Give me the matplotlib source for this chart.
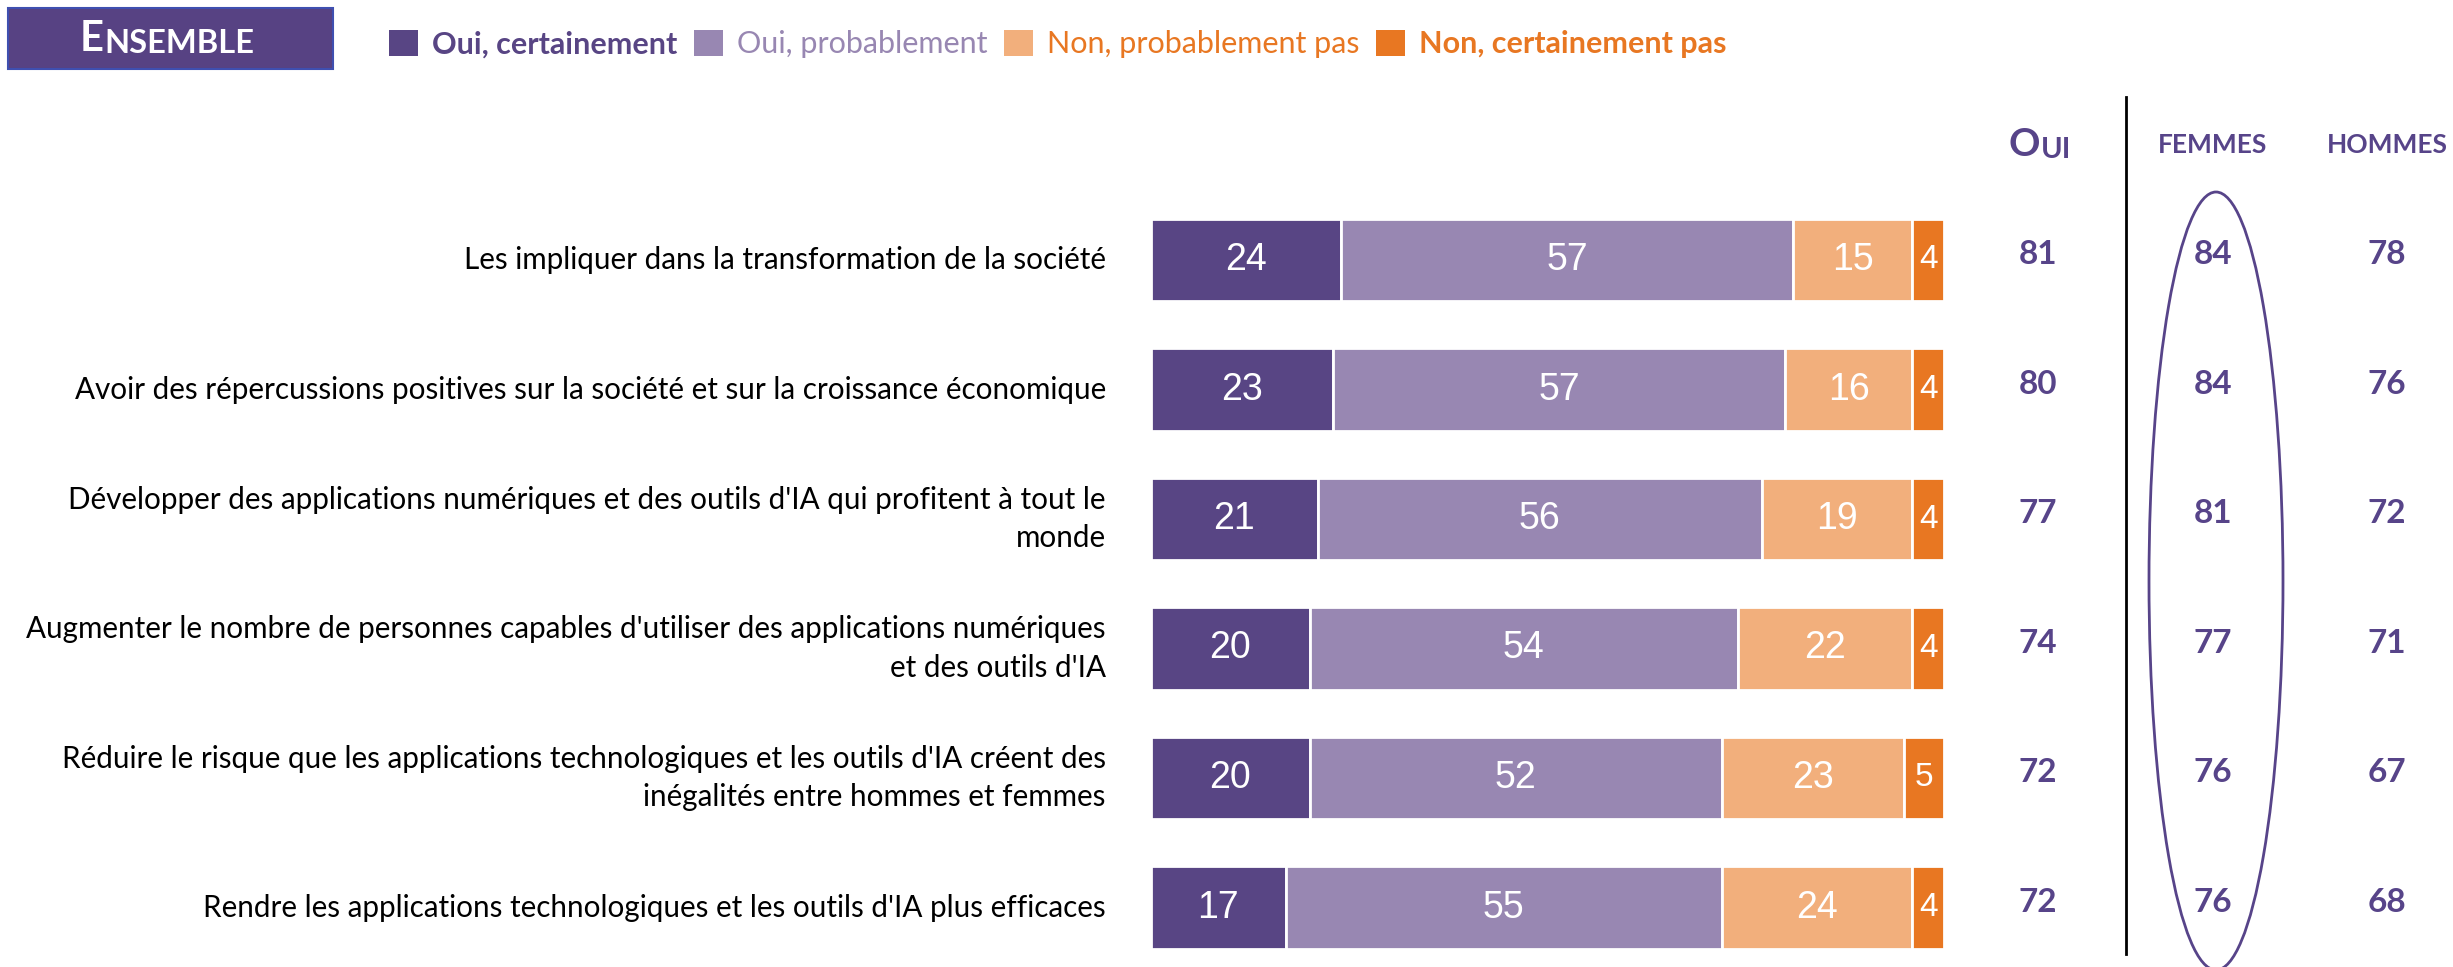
import matplotlib.pyplot as plt
from matplotlib.patches import Ellipse, Rectangle, Patch
from matplotlib.text import Annotation

# Data
categories = [
    "Les impliquer dans la transformation de la société",
    "Avoir des répercussions positives sur la société et sur la croissance économique",
    "Développer des applications numériques et des outils d'IA qui profitent à tout le\nmonde",
    "Augmenter le nombre de personnes capables d'utiliser des applications numériques\net des outils d'IA",
    "Réduire le risque que les applications technologiques et les outils d'IA créent des\ninégalités entre hommes et femmes",
    "Rendre les applications technologiques et les outils d'IA plus efficaces",
]
oui_certainement = [24, 23, 21, 20, 20, 17]
oui_probablement = [57, 57, 56, 54, 52, 55]
non_probablement = [15, 16, 19, 22, 23, 24]
non_certainement = [4, 4, 4, 4, 5, 4]
total_oui = [81, 80, 77, 74, 72, 72]
femmes = [84, 84, 81, 77, 76, 76]
hommes = [78, 76, 72, 71, 67, 68]
series_labels = ["Oui, certainement", "Oui, probablement", "Non, probablement pas", "Non, certainement pas"]

# Style
colors = ["#584584", "#9887B2", "#F2AF7C", "#E87722"]
legend_text_colors = ["#584584", "#9887B2", "#E87722", "#E87722"]
legend_weights = ["bold", "normal", "normal", "bold"]
value_color = "#574489"
font = "Lato"
num_font = ["Liberation Sans", "DejaVu Sans"]

W, H = 2453, 967
x0, unit = 1151, 7.93          # bar start (px) and px per percent
row0, pitch = 260, 129.5       # first row centre (px from top) and row pitch

fig = plt.figure(figsize=(W / 100, H / 100), dpi=100)
top_px = row0 - pitch / 2
ax = fig.add_axes([x0 / W, 0, 100 * unit / W, (H - top_px) / H])
ax.set_xlim(0, 100)
ax.set_ylim(-0.5 + (H - top_px) / pitch, -0.5)
ax.axis("off")

# Stacked bars
series = [oui_certainement, oui_probablement, non_probablement, non_certainement]
rows = range(len(categories))
lefts = [0] * len(categories)
for vals, col in zip(series, colors):
    ax.barh(rows, vals, left=lefts, height=0.64, color=col, edgecolor="white", linewidth=2)
    for i, v in enumerate(vals):
        ax.text(lefts[i] + v / 2, i, str(v), ha="center", va="center", color="white",
                fontsize=27 if v > 6 else 24, family=num_font)
    lefts = [l + v for l, v in zip(lefts, vals)]

# Category labels
for i, cat in enumerate(categories):
    ax.text(-5.7, i, cat, ha="right", va="center", fontsize=21.3, family=font,
            color="black", linespacing=1.45, multialignment="right")

# Right-hand columns
def col_x(px):
    return (px - x0) / unit

col_oui, col_f, col_h = col_x(2038), col_x(2213), col_x(2387)
for col, vals in [(col_oui, total_oui), (col_f, femmes), (col_h, hommes)]:
    for i in rows:
        ax.text(col, i - 0.04, str(vals[i]), ha="center", va="center", fontsize=24,
                fontweight="bold", color=value_color, family=font, clip_on=False)

head_y = (145 - row0) / pitch
t_o = ax.text(col_oui + 0.3, head_y, "O", ha="right", va="center", fontsize=28,
              fontweight="bold", color=value_color, family=font, clip_on=False)
ax.annotate("UI", xy=(1, 0), xycoords=t_o, ha="left", va="bottom", fontsize=21,
            fontweight="bold", color=value_color, family=font)
for col, name in [(col_f, "FEMMES"), (col_h, "HOMMES")]:
    ax.text(col, head_y, name, ha="center", va="center", fontsize=19,
            fontweight="bold", color=value_color, family=font, clip_on=False)

# Separator line and ellipse around the women column
ax.plot([col_x(2126)] * 2, [(97 - row0) / pitch, (954 - row0) / pitch], color="black",
        lw=2, clip_on=False)
ax.add_patch(Ellipse((col_x(2216), (581 - row0) / pitch), 134 / unit, 778 / pitch,
                     fill=False, edgecolor=value_color, lw=2, clip_on=False))

# Header box
fig.add_artist(Rectangle((8 / W, 1 - 69 / H), 325 / W, 61 / H, transform=fig.transFigure,
                         facecolor="#574283", edgecolor="#3F4FB0", lw=1.5))
t_e = fig.text(104 / W, 1 - 39 / H, "E", ha="right", va="center", fontsize=30,
               fontweight="bold", color="white", family=font, zorder=3)
fig.add_artist(Annotation("NSEMBLE", xy=(1, 0), xycoords=t_e, ha="left", va="bottom",
                          fontsize=23.5, fontweight="bold", color="white", family=font,
                          zorder=3))

# Legend
handles = [Patch(facecolor=c, edgecolor="none") for c in colors]
leg = fig.legend(handles, series_labels, loc="center left", bbox_to_anchor=(389 / W, 1 - 44 / H),
                 ncol=4, frameon=False, prop={"family": font, "size": 22},
                 handlelength=0.95, handleheight=0.95, handletextpad=0.45, columnspacing=0.55,
                 borderaxespad=0, borderpad=0)
for txt, c, w in zip(leg.get_texts(), legend_text_colors, legend_weights):
    txt.set_color(c)
    txt.set_fontweight(w)

plt.savefig("out.png", dpi=100)
